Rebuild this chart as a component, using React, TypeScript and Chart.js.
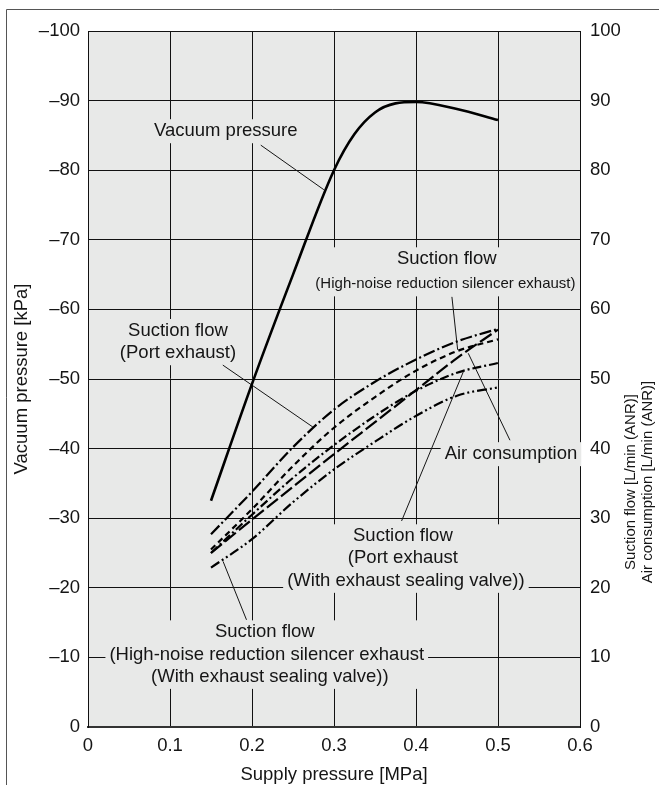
import React, { useEffect, useRef } from "react";
import { Chart, registerables } from "chart.js";

Chart.register(...registerables);

// ---------- data ----------
const supplyPressure = [0.15, 0.2, 0.25, 0.3, 0.35, 0.4, 0.45, 0.5];
const vacuumSupply = [0.15, 0.2, 0.25, 0.3, 0.325, 0.35, 0.375, 0.4, 0.45, 0.5];
const vacuumPressure = [-32.5, -49.3, -65.0, -80.0, -85.2, -88.3, -89.6, -89.8, -88.8, -87.2];
const flowPortExhaust = [27.7, 33.8, 40.2, 45.6, 49.6, 52.8, 55.4, 57.2];
const flowSilencer = [25.5, 31.3, 37.5, 43.0, 47.4, 51.2, 54.0, 55.7];
const airConsumption = [25.0, 29.8, 34.5, 39.2, 43.8, 48.4, 53.0, 57.1];
const flowPortSealing = [25.0, 30.5, 35.8, 40.5, 44.7, 48.3, 50.9, 52.3];
const flowSilencerSealing = [22.9, 27.0, 32.3, 37.0, 41.0, 44.7, 47.6, 48.8];

const xTickValues = [0, 0.1, 0.2, 0.3, 0.4, 0.5, 0.6];
const xTickLabels = ["0", "0.1", "0.2", "0.3", "0.4", "0.5", "0.6"];
const leftTickValues = [0, -10, -20, -30, -40, -50, -60, -70, -80, -90, -100];
const leftTickLabels = ["0", "\u201310", "\u201320", "\u201330", "\u201340", "\u201350", "\u201360", "\u201370", "\u201380", "\u201390", "\u2013100"];
const rightTickValues = [0, 10, 20, 30, 40, 50, 60, 70, 80, 90, 100];
const rightTickLabels = ["0", "10", "20", "30", "40", "50", "60", "70", "80", "90", "100"];

const xTitle = "Supply pressure [MPa]";
const leftTitle = "Vacuum pressure [kPa]";
const rightTitles = ["Suction flow [L/min (ANR)]", "Air consumption [L/min (ANR)]"];

// ---------- styling / annotation config ----------
const FONT = '"Liberation Sans", Arial, Helvetica, sans-serif';
const TEXT = "#151515";
const PLOT_BG = "#e8e9e8";
const BIG = 18.5;
const SMALL = 15;

type Line = { t: string; x: number; y: number; size: number };
type Note = { lines: Line[]; leader: [number, number, number, number] };

// positions in data units (x: MPa, y: right-axis units)
const notes: Note[] = [
  { lines: [{ t: "Vacuum pressure", x: 0.168, y: 85.6, size: BIG }], leader: [0.2107, 83.6, 0.2876, 77.2] },
  {
    lines: [
      { t: "Suction flow", x: 0.4375, y: 67.2, size: BIG },
      { t: "(High-noise reduction silencer exhaust)", x: 0.4359, y: 63.6, size: SMALL },
    ],
    leader: [0.4438, 61.8, 0.4508, 54.2],
  },
  {
    lines: [
      { t: "Suction flow", x: 0.1097, y: 56.9, size: BIG },
      { t: "(Port exhaust)", x: 0.1097, y: 53.7, size: BIG },
    ],
    leader: [0.1644, 52.0, 0.2742, 43.1],
  },
  { lines: [{ t: "Air consumption", x: 0.5158, y: 39.2, size: BIG }], leader: [0.5146, 41.2, 0.4637, 53.7] },
  {
    lines: [
      { t: "Suction flow", x: 0.384, y: 27.4, size: BIG },
      { t: "(Port exhaust", x: 0.384, y: 24.3, size: BIG },
      { t: "(With exhaust sealing valve))", x: 0.3877, y: 21.0, size: BIG },
    ],
    leader: [0.3824, 29.6, 0.4576, 51.0],
  },
  {
    lines: [
      { t: "Suction flow", x: 0.2156, y: 13.6, size: BIG },
      { t: "(High-noise reduction silencer exhaust", x: 0.218, y: 10.3, size: BIG },
      { t: "(With exhaust sealing valve))", x: 0.2217, y: 7.2, size: BIG },
    ],
    leader: [0.1933, 15.4, 0.1647, 23.8],
  },
];

const bgPlugin = {
  id: "plotBg",
  beforeDraw(chart: any) {
    const { ctx, chartArea: a } = chart;
    ctx.save();
    ctx.fillStyle = PLOT_BG;
    ctx.fillRect(a.left, a.top, a.right - a.left, a.bottom - a.top);
    ctx.restore();
  },
};

const notesPlugin = {
  id: "notes",
  beforeDatasetsDraw(chart: any) {
    const { ctx } = chart;
    const xs = chart.scales.x;
    const ys = chart.scales.y1;
    ctx.save();
    for (const n of notes) {
      let minX = Infinity;
      let maxX = -Infinity;
      const rows = n.lines.map((l) => {
        ctx.font = `${l.size}px ${FONT}`;
        const w = ctx.measureText(l.t).width;
        const cx = xs.getPixelForValue(l.x);
        minX = Math.min(minX, cx - w / 2);
        maxX = Math.max(maxX, cx + w / 2);
        return { ...l, cx, cy: ys.getPixelForValue(l.y) };
      });
      const top = rows[0].cy - 12;
      const bottom = rows[rows.length - 1].cy + 12;
      ctx.fillStyle = PLOT_BG;
      ctx.fillRect(minX - 4, top, maxX - minX + 8, bottom - top);
      ctx.fillStyle = TEXT;
      ctx.textAlign = "center";
      ctx.textBaseline = "middle";
      for (const r of rows) {
        ctx.font = `${r.size}px ${FONT}`;
        ctx.fillText(r.t, r.cx, r.cy);
      }
      const [x1, y1, x2, y2] = n.leader;
      ctx.strokeStyle = TEXT;
      ctx.lineWidth = 1;
      ctx.beginPath();
      ctx.moveTo(xs.getPixelForValue(x1), ys.getPixelForValue(y1));
      ctx.lineTo(xs.getPixelForValue(x2), ys.getPixelForValue(y2));
      ctx.stroke();
    }
    ctx.restore();
  },
};

const framePlugin = {
  id: "frame",
  afterDraw(chart: any) {
    const { ctx, chartArea: a, width, height } = chart;
    const ys = chart.scales.y1;
    ctx.save();
    // outer frame (top + left)
    ctx.strokeStyle = "#555";
    ctx.lineWidth = 1;
    ctx.beginPath();
    ctx.moveTo(6.5, height);
    ctx.lineTo(6.5, 9.5);
    ctx.lineTo(width, 9.5);
    ctx.stroke();
    // axis titles
    ctx.fillStyle = TEXT;
    ctx.textAlign = "center";
    ctx.textBaseline = "middle";
    ctx.font = `${BIG}px ${FONT}`;
    ctx.fillText(xTitle, (a.left + a.right) / 2, 775);
    ctx.save();
    ctx.translate(22, (a.top + a.bottom) / 2);
    ctx.rotate(-Math.PI / 2);
    ctx.fillText(leftTitle, 0, 0);
    ctx.restore();
    ctx.font = `${SMALL}px ${FONT}`;
    const cy = ys.getPixelForValue(35.2);
    rightTitles.forEach((t, i) => {
      ctx.save();
      ctx.translate(a.right + 51 + i * 17, cy);
      ctx.rotate(-Math.PI / 2);
      ctx.fillText(t, 0, 0);
      ctx.restore();
    });
    ctx.restore();
  },
};

function pts(xs: number[], ys: number[]) {
  return xs.map((x, i) => ({ x, y: ys[i] }));
}

export default function App() {
  const ref = useRef<HTMLCanvasElement>(null);
  useEffect(() => {
    const flowDs = (label: string, data: number[], dash: number[]) => ({
      label,
      data: pts(supplyPressure, data),
      yAxisID: "y1",
      borderColor: "#000",
      borderWidth: 2.2,
      borderDash: dash,
      pointRadius: 0,
      cubicInterpolationMode: "monotone" as const,
      fill: false,
    });
    const chart = new Chart(ref.current!, {
      type: "line",
      data: {
        datasets: [
          flowDs("Suction flow (Port exhaust)", flowPortExhaust, [12, 3, 2, 3]),
          flowDs("Suction flow (High-noise reduction silencer exhaust)", flowSilencer, [6, 4]),
          flowDs("Air consumption", airConsumption, [14, 4]),
          flowDs("Suction flow (Port exhaust (With exhaust sealing valve))", flowPortSealing, [9, 3, 2, 3]),
          flowDs(
            "Suction flow (High-noise reduction silencer exhaust (With exhaust sealing valve))",
            flowSilencerSealing,
            [10, 3, 2, 3, 2, 3]
          ),
          {
            label: "Vacuum pressure",
            data: pts(vacuumSupply, vacuumPressure),
            yAxisID: "y",
            borderColor: "#000",
            borderWidth: 2.6,
            pointRadius: 0,
            cubicInterpolationMode: "monotone" as const,
            fill: false,
          },
        ],
      },
      options: {
        responsive: false,
        animation: false,
        devicePixelRatio: 1,
        layout: { padding: { top: 31, left: 0, right: 0, bottom: 0 } },
        plugins: { legend: { display: false }, tooltip: { enabled: false } },
        scales: {
          x: {
            type: "linear",
            min: 0,
            max: 0.6,
            afterBuildTicks: (s: any) => {
              s.ticks = xTickValues.map((v) => ({ value: v }));
            },
            afterFit: (s: any) => {
              s.height = 58;
            },
            ticks: {
              callback: (_v: any, i: number) => xTickLabels[i],
              font: { family: FONT, size: BIG },
              color: TEXT,
              padding: 8,
              maxRotation: 0,
              autoSkip: false,
            },
            grid: { color: "#111", lineWidth: 1, drawTicks: false },
            border: { display: true, color: "#333", width: 2 },
          },
          y: {
            type: "linear",
            position: "left",
            min: -100,
            max: 0,
            reverse: true,
            afterBuildTicks: (s: any) => {
              s.ticks = leftTickValues.map((v) => ({ value: v }));
            },
            afterFit: (s: any) => {
              s.width = 88;
            },
            ticks: {
              callback: (_v: any, i: number) => leftTickLabels[i],
              font: { family: FONT, size: BIG },
              color: TEXT,
              padding: 8,
              autoSkip: false,
            },
            grid: { color: "#111", lineWidth: 1, drawTicks: false },
            border: { display: true, color: "#111", width: 1 },
          },
          y1: {
            type: "linear",
            position: "right",
            min: 0,
            max: 100,
            afterBuildTicks: (s: any) => {
              s.ticks = rightTickValues.map((v) => ({ value: v }));
            },
            afterFit: (s: any) => {
              s.width = 79;
            },
            ticks: {
              callback: (_v: any, i: number) => rightTickLabels[i],
              font: { family: FONT, size: BIG },
              color: TEXT,
              padding: 10,
              autoSkip: false,
            },
            grid: { drawOnChartArea: false, drawTicks: false },
            border: { display: true, color: "#111", width: 1 },
          },
        },
      },
      plugins: [bgPlugin, notesPlugin, framePlugin],
    } as any);
    return () => chart.destroy();
  }, []);
  return (
    <div style={{ position: "absolute", left: 0, top: 0, width: 659, height: 785, background: "#fff" }}>
      <canvas ref={ref} width={659} height={785} style={{ display: "block" }} />
    </div>
  );
}
